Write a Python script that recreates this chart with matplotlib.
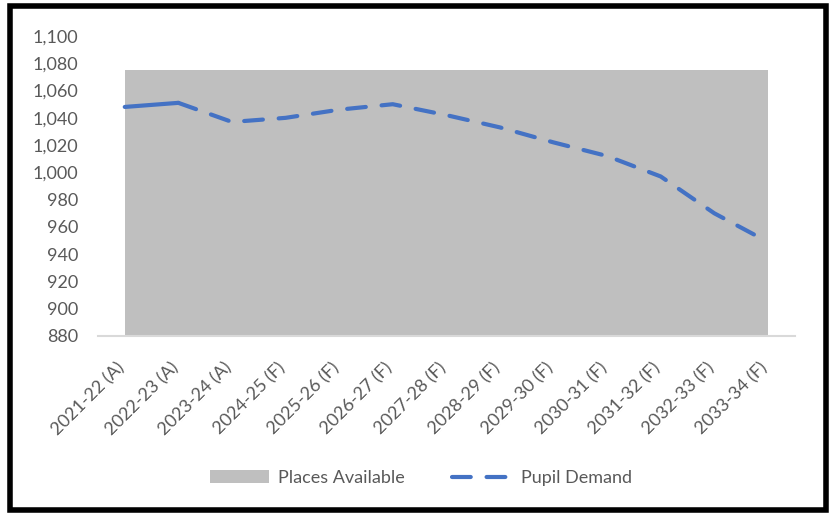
import matplotlib.pyplot as plt
from matplotlib.patches import Rectangle
import numpy as np

# data
years = ["2021-22 (A)", "2022-23 (A)", "2023-24 (A)", "2024-25 (F)", "2025-26 (F)",
         "2026-27 (F)", "2027-28 (F)", "2028-29 (F)", "2029-30 (F)", "2030-31 (F)",
         "2031-32 (F)", "2032-33 (F)", "2033-34 (F)"]
places = [1075] * 13
demand = [1048, 1051, 1037, 1040, 1046, 1050, 1042, 1033, 1022, 1012, 997, 970, 949]

txt = "#595959"
blue = "#4472C4"
plt.rcParams['font.family'] = ['Lato', 'DejaVu Sans']

fig = plt.figure(figsize=(8.33, 5.15), dpi=100)
ax = fig.add_axes([0.1176, 0.3476, 0.954 - 0.1176, 0.930 - 0.3476])

x = np.arange(len(years))
ax.fill_between(x, 880, places, color="#BFBFBF", lw=0, label="Places Available")

# actual years solid, forecast dashed
ax.plot(x[:2], demand[:2], color=blue, lw=3, solid_capstyle="round")
ln, = ax.plot(x[1:], demand[1:], color=blue, lw=3, dash_capstyle="round",
              label="Pupil Demand")
ln.set_dashes([4.5, 3.8])

ax.set_xlim(-0.5, len(years) - 0.5)
ax.set_ylim(880, 1100)
ax.set_yticks(range(880, 1101, 20))
ax.set_yticklabels([f"{v:,}" for v in range(880, 1101, 20)])
ax.set_xticks(x)
ax.set_xticklabels(years, rotation=45, ha="right", rotation_mode="anchor")

for s in ["top", "right", "left"]:
    ax.spines[s].set_visible(False)
ax.spines["bottom"].set_color("#D9D9D9")
ax.spines["bottom"].set_linewidth(1.5)
ax.tick_params(axis="both", length=0, colors=txt, labelsize=13)
ax.tick_params(axis="y", pad=14)
ax.tick_params(axis="x", pad=17)

# nudge rotated labels a little left so their ends sit under the tick
import matplotlib.transforms as mtrans
off = mtrans.ScaledTranslation(-6 / 72, 0, fig.dpi_scale_trans)
for lab in ax.get_xticklabels():
    lab.set_transform(lab.get_transform() + off)

leg = fig.legend(loc="center", bbox_to_anchor=(0.505, 0.072), ncol=2, frameon=False,
                 fontsize=13, handlelength=3.3, columnspacing=2.6, handletextpad=0.5)
for t in leg.get_texts():
    t.set_color(txt)

# outer frame
fig.patches.append(Rectangle((0.0115, 0.009), 0.98, 0.98, transform=fig.transFigure,
                             fill=False, ec="black", lw=4))

fig.savefig("out.png", dpi=100)
